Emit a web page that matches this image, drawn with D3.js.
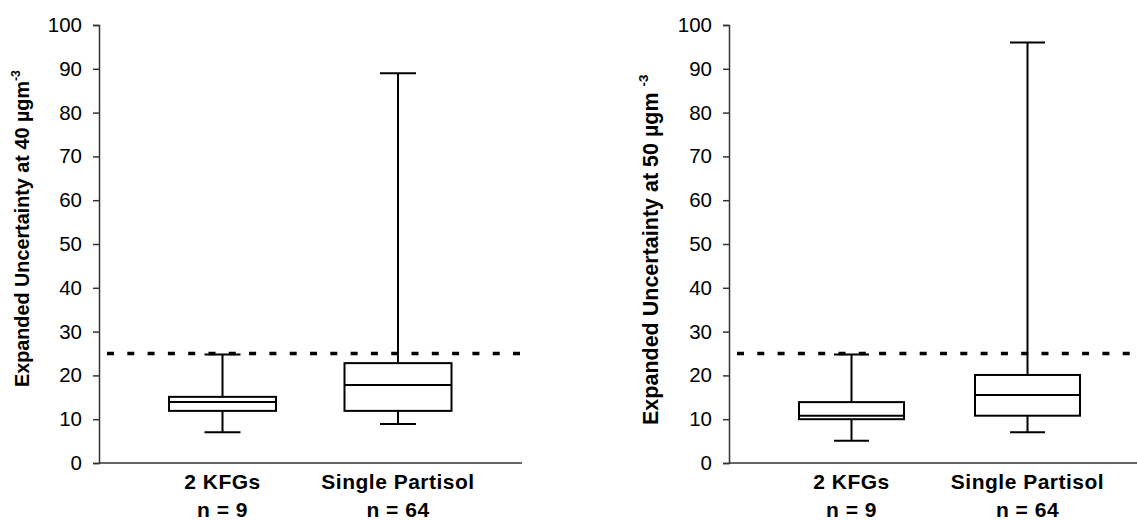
<!DOCTYPE html>
<html>
<head>
<meta charset="utf-8">
<script src="https://cdn.jsdelivr.net/npm/d3@7"></script>
<style>
  body { margin: 0; background: #fff; }
  svg { display: block; font-family: Arial, "Liberation Sans", sans-serif; }
</style>
</head>
<body>
<svg width="1137" height="521"></svg>
<script>
const svg = d3.select('svg')

// data
const categories = ['2 KFGs', 'Single Partisol']
const counts = ['n = 9', 'n = 64']
const yTicks = [0, 10, 20, 30, 40, 50, 60, 70, 80, 90, 100]
const limit = 25
// [min, q1, median, q3, max] per category
const boxes40 = [[7, 11.9, 13.9, 15.1, 24.8], [8.9, 11.9, 17.8, 22.8, 89]]
const boxes50 = [[5.1, 10, 10.8, 13.9, 24.8], [7, 10.8, 15.5, 20.1, 96]]

const y = d3.scaleLinear().domain([0, 100]).range([463, 25])

const panels = [
    { boxes: boxes40, axisX: 99, axisEnd: 522, range: [222.5, 398], boxW: 107, capW: 36,
      dashStart: 107, dashEnd: 522, titleX: 29, titleY: 387, titleSize: 19.8,
      title: 'Expanded Uncertainty at 40 µgm', sup: '-3' },
    { boxes: boxes50, axisX: 729, axisEnd: 1137, range: [851.5, 1027.5], boxW: 105, capW: 35,
      dashStart: 737, dashEnd: 1137, titleX: 658, titleY: 425, titleSize: 21.5,
      title: 'Expanded Uncertainty at 50 µgm ', sup: '-3' }
]

const render = (selection, p) => {
    const x = d3.scalePoint().domain(categories).range(p.range)
    const g = selection.append('g')

    // y axis
    const axis = d3.axisLeft(y).tickValues(yTicks).tickSize(6).tickPadding(11)
    const ga = g.append('g').attr('transform', `translate(${p.axisX},0)`).call(axis)
    ga.select('.domain').attr('stroke', '#333').attr('stroke-width', 1.5)
    ga.selectAll('.tick line').attr('stroke', '#333').attr('stroke-width', 1.5)
    ga.selectAll('.tick text').attr('font-size', 20.5).attr('fill', '#000')
        .attr('font-family', 'Arial, "Liberation Sans", sans-serif')

    // x axis line
    g.append('line')
        .attr('x1', p.axisX).attr('x2', p.axisEnd)
        .attr('y1', y(0)).attr('y2', y(0))
        .attr('stroke', '#333').attr('stroke-width', 1.5)

    // limit line
    g.append('line')
        .attr('x1', p.dashStart).attr('x2', p.dashEnd)
        .attr('y1', y(limit)).attr('y2', y(limit))
        .attr('stroke', '#000').attr('stroke-width', 3.5)
        .attr('stroke-dasharray', '7 13.3')

    const bx = g.selectAll('g.box').data(p.boxes).enter().append('g').attr('class', 'box')
    const cx = (d, i) => x(categories[i])

    bx.append('line').attr('x1', cx).attr('x2', cx)
        .attr('y1', d => y(d[0])).attr('y2', d => y(d[4]))
        .attr('stroke', '#000').attr('stroke-width', 2)
    bx.append('line').attr('x1', (d, i) => cx(d, i) - p.capW / 2).attr('x2', (d, i) => cx(d, i) + p.capW / 2)
        .attr('y1', d => y(d[0])).attr('y2', d => y(d[0]))
        .attr('stroke', '#000').attr('stroke-width', 2)
    bx.append('line').attr('x1', (d, i) => cx(d, i) - p.capW / 2).attr('x2', (d, i) => cx(d, i) + p.capW / 2)
        .attr('y1', d => y(d[4])).attr('y2', d => y(d[4]))
        .attr('stroke', '#000').attr('stroke-width', 2)
    bx.append('rect')
        .attr('x', (d, i) => cx(d, i) - p.boxW / 2).attr('width', p.boxW)
        .attr('y', d => y(d[3])).attr('height', d => y(d[1]) - y(d[3]))
        .attr('fill', '#fff').attr('stroke', '#000').attr('stroke-width', 2)
    bx.append('line').attr('x1', (d, i) => cx(d, i) - p.boxW / 2).attr('x2', (d, i) => cx(d, i) + p.boxW / 2)
        .attr('y1', d => y(d[2])).attr('y2', d => y(d[2]))
        .attr('stroke', '#000').attr('stroke-width', 2)

    // category labels
    g.selectAll('text.cat').data(categories).enter().append('text')
        .attr('class', 'cat')
        .attr('x', d => x(d)).attr('y', 489)
        .attr('text-anchor', 'middle').attr('font-size', 21).attr('font-weight', 'bold')
        .attr('letter-spacing', 0.5)
        .text(d => d)
    g.selectAll('text.cnt').data(counts).enter().append('text')
        .attr('class', 'cnt')
        .attr('x', (d, i) => x(categories[i])).attr('y', 517)
        .attr('text-anchor', 'middle').attr('font-size', 21).attr('font-weight', 'bold')
        .attr('letter-spacing', 0.5)
        .text(d => d)

    // y title
    const t = g.append('text')
        .attr('transform', `translate(${p.titleX},${p.titleY}) rotate(-90)`)
        .attr('text-anchor', 'start').attr('font-size', p.titleSize).attr('font-weight', 'bold')
    t.append('tspan').text(p.title)
    t.append('tspan').attr('font-size', p.titleSize * 0.62).attr('dy', -p.titleSize * 0.48).text(p.sup)
}

panels.forEach(p => render(svg, p))
</script>
</body>
</html>
